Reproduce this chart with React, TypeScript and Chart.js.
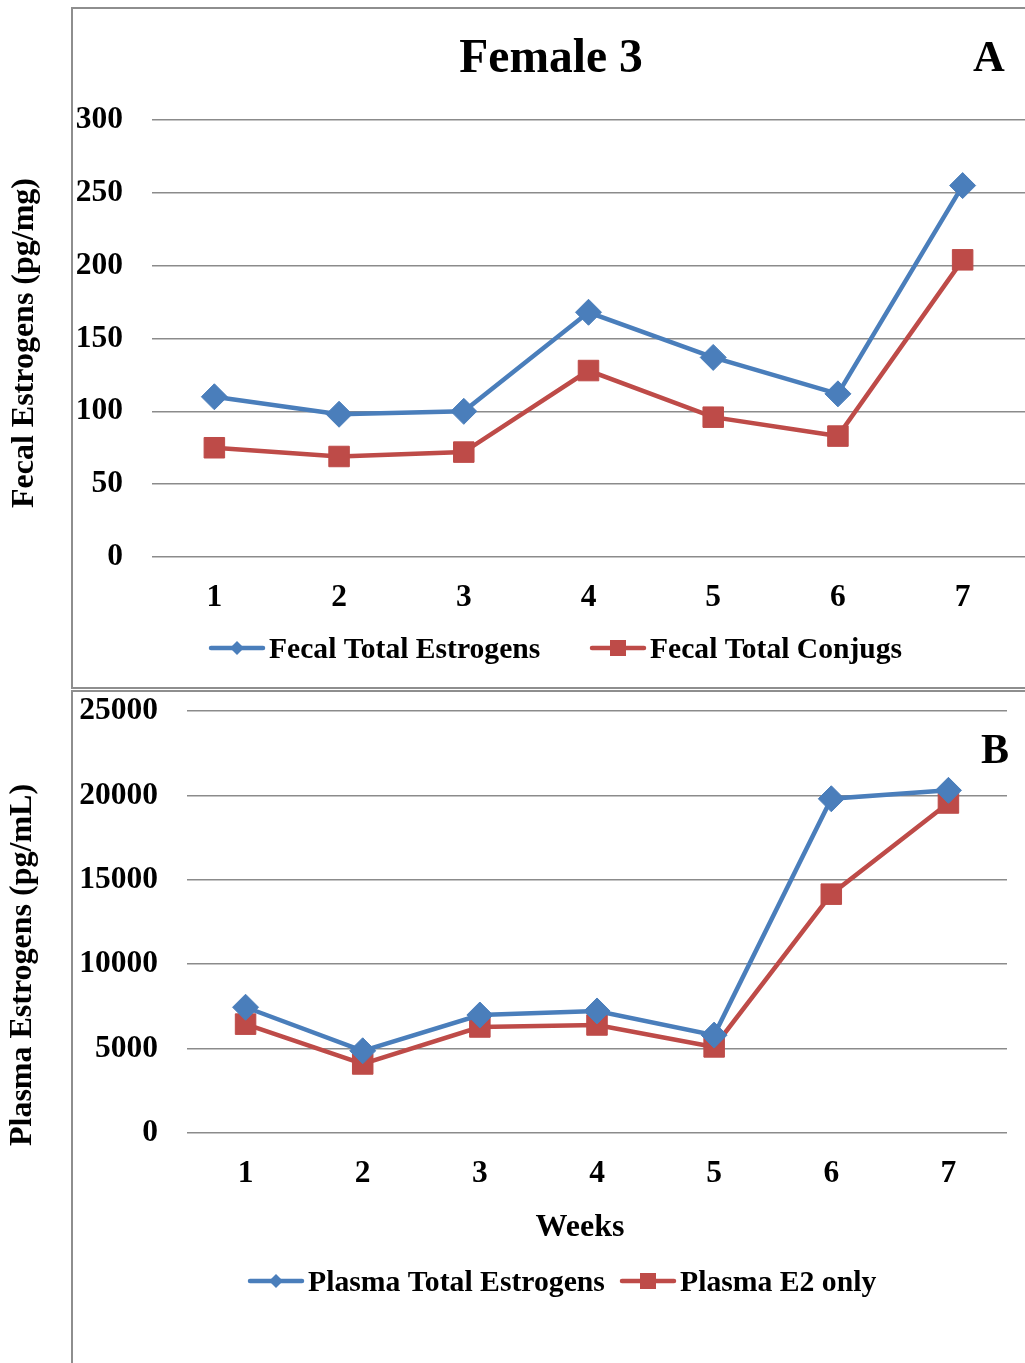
import React, { useEffect, useRef } from "react";
import { Chart, registerables } from "chart.js";

Chart.register(...registerables);

// ---- data ----
const weeks = ["1", "2", "3", "4", "5", "6", "7"];
const fecalTotalEstrogens = [110, 98, 100, 168, 137, 112, 255];
const fecalTotalConjugs = [75, 69, 72, 128, 96, 83, 204];
const plasmaTotalEstrogens = [7450, 4870, 6990, 7230, 5800, 19800, 20300];
const plasmaE2Only = [6450, 4090, 6280, 6400, 5100, 14150, 19550];
const fecalAxis = { min: 0, max: 300, step: 50 };
const plasmaAxis = { min: 0, max: 25000, step: 5000 };

const BLUE = "#4a7ebb";
const RED = "#be4b48";
const GRID = "#8b8b8b";
const FONT = "'Liberation Serif', 'Times New Roman', serif";
const CLEAR = "rgba(0,0,0,0)";

type TextItem = { text: string; x: number; y: number; size: number; rotate?: boolean };
type LegendItem = { text: string; color: string; marker: "diamond" | "square"; x: number; y: number };

function drawMarker(ctx: CanvasRenderingContext2D, kind: string, x: number, y: number, color: string) {
  ctx.fillStyle = color;
  ctx.beginPath();
  if (kind === "diamond") {
    const r = 7;
    ctx.moveTo(x, y - r);
    ctx.lineTo(x + r, y);
    ctx.lineTo(x, y + r);
    ctx.lineTo(x - r, y);
    ctx.closePath();
  } else {
    const h = 8;
    ctx.rect(x - h, y - h, 2 * h, 2 * h);
  }
  ctx.fill();
}

function makeOverlay(texts: TextItem[], legend: LegendItem[], legendSize: number) {
  return {
    id: "overlay",
    afterDraw(chart: any) {
      const ctx: CanvasRenderingContext2D = chart.ctx;
      ctx.save();
      ctx.textBaseline = "middle";
      for (const t of texts) {
        ctx.save();
        ctx.font = `bold ${t.size}px ${FONT}`;
        ctx.textAlign = "center";
        ctx.fillStyle = "#000";
        ctx.translate(t.x, t.y);
        if (t.rotate) ctx.rotate(-Math.PI / 2);
        ctx.fillText(t.text, 0, 0);
        ctx.restore();
      }
      for (const l of legend) {
        ctx.save();
        ctx.strokeStyle = l.color;
        ctx.lineWidth = 4.5;
        ctx.lineCap = "round";
        ctx.beginPath();
        ctx.moveTo(l.x + 2, l.y);
        ctx.lineTo(l.x + 54, l.y);
        ctx.stroke();
        drawMarker(ctx, l.marker, l.x + 28, l.y, l.color);
        ctx.fillStyle = "#000";
        ctx.font = `bold ${legendSize}px ${FONT}`;
        ctx.textAlign = "left";
        ctx.textBaseline = "middle";
        ctx.fillText(l.text, l.x + 60, l.y + 2);
        ctx.restore();
      }
      ctx.restore();
    },
  };
}

function lineDataset(label: string, data: number[], color: string, style: "rectRot" | "rect") {
  return {
    label,
    data,
    borderColor: color,
    backgroundColor: color,
    borderWidth: 4.5,
    tension: 0,
    pointStyle: style,
    pointRadius: style === "rect" ? 14.5 : 13,
    pointBorderWidth: 1,
    pointBackgroundColor: color,
    pointBorderColor: color,
  };
}

function buildOptions(
  axis: { min: number; max: number; step: number },
  yWidth: number,
  xHeight: number,
  padTop: number,
  padRight: number
): any {
  return {
    responsive: false,
    animation: false,
    layout: { autoPadding: false, padding: { top: padTop, right: padRight, left: 0, bottom: 0 } },
    plugins: { legend: { display: false }, title: { display: false }, tooltip: { enabled: false } },
    scales: {
      x: {
        offset: true,
        grid: { display: true, drawOnChartArea: false, drawTicks: true, tickLength: 22, tickColor: CLEAR, color: CLEAR },
        border: { display: false },
        ticks: { color: "#000", font: { family: FONT, size: 31.5, weight: "bold" }, padding: 0, maxRotation: 0 },
        afterFit: (s: any) => {
          s.height = xHeight;
        },
      },
      y: {
        min: axis.min,
        max: axis.max,
        grid: { color: GRID, lineWidth: 1.5, drawTicks: true, tickLength: 29, tickColor: CLEAR },
        border: { display: false },
        ticks: {
          stepSize: axis.step,
          color: "#000",
          padding: 0,
          font: { family: FONT, size: 31.5, weight: "bold" },
          callback: (v: any) => String(v),
        },
        afterFit: (s: any) => {
          s.width = yWidth;
        },
      },
    },
  };
}

function TopChart() {
  const ref = useRef<HTMLCanvasElement>(null);
  useEffect(() => {
    if (!ref.current) return;
    const chart = new Chart(ref.current, {
      type: "line",
      data: {
        labels: weeks,
        datasets: [
          lineDataset("Fecal Total Estrogens", fecalTotalEstrogens, BLUE, "rectRot"),
          lineDataset("Fecal Total Conjugs", fecalTotalConjugs, RED, "rect"),
        ] as any,
      },
      options: buildOptions(fecalAxis, 152, 131, 120, 0),
      plugins: [
        makeOverlay(
          [
            { text: "Female 3", x: 551, y: 60, size: 47.5 },
            { text: "A", x: 989, y: 60, size: 44 },
            { text: "Fecal Estrogens (pg/mg)", x: 25, y: 343, size: 32, rotate: true },
          ],
          [
            { text: "Fecal Total Estrogens", color: BLUE, marker: "diamond", x: 209, y: 648 },
            { text: "Fecal Total Conjugs", color: RED, marker: "square", x: 590, y: 648 },
          ],
          29.6
        ),
      ],
    });
    return () => chart.destroy();
  }, []);
  return <canvas ref={ref} width={1025} height={688} style={{ position: "absolute", left: 0, top: 0, width: 1025, height: 688 }} />;
}

function BottomChart() {
  const ref = useRef<HTMLCanvasElement>(null);
  useEffect(() => {
    if (!ref.current) return;
    const chart = new Chart(ref.current, {
      type: "line",
      data: {
        labels: weeks,
        datasets: [
          lineDataset("Plasma Total Estrogens", plasmaTotalEstrogens, BLUE, "rectRot"),
          lineDataset("Plasma E2 only", plasmaE2Only, RED, "rect"),
        ] as any,
      },
      options: buildOptions(plasmaAxis, 187, 230, 21, 18),
      plugins: [
        makeOverlay(
          [
            { text: "B", x: 995, y: 62, size: 42 },
            { text: "Weeks", x: 580, y: 538, size: 32 },
            { text: "Plasma Estrogens (pg/mL)", x: 23, y: 275, size: 32, rotate: true },
          ],
          [
            { text: "Plasma Total Estrogens", color: BLUE, marker: "diamond", x: 248, y: 591 },
            { text: "Plasma E2 only", color: RED, marker: "square", x: 620, y: 591 },
          ],
          29.7
        ),
      ],
    });
    return () => chart.destroy();
  }, []);
  return <canvas ref={ref} width={1025} height={673} style={{ position: "absolute", left: 0, top: 690, width: 1025, height: 673 }} />;
}

export default function App() {
  return (
    <div style={{ position: "absolute", left: 0, top: 0, width: 1025, height: 1363, overflow: "hidden", background: "#fff" }}>
      <TopChart />
      <BottomChart />
      <div
        style={{
          position: "absolute",
          left: 71,
          top: 7,
          width: 1100,
          height: 682,
          boxSizing: "border-box",
          border: "2px solid #8e8e8e",
          pointerEvents: "none",
        }}
      />
      <div
        style={{
          position: "absolute",
          left: 71,
          top: 690,
          width: 1100,
          height: 800,
          boxSizing: "border-box",
          border: "2px solid #8e8e8e",
          pointerEvents: "none",
        }}
      />
    </div>
  );
}
